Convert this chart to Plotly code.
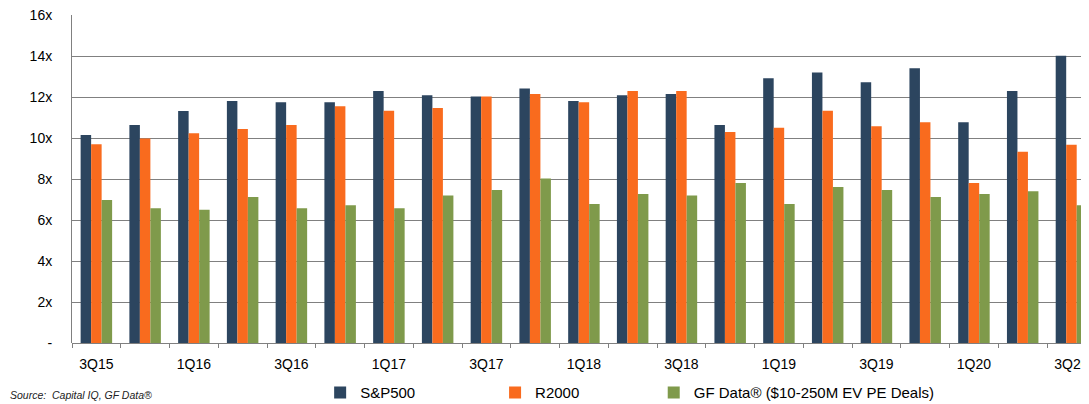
import plotly.graph_objects as go

quarters = ["3Q15", "4Q15", "1Q16", "2Q16", "3Q16", "4Q16", "1Q17", "2Q17", "3Q17", "4Q17",
            "1Q18", "2Q18", "3Q18", "4Q18", "1Q19", "2Q19", "3Q19", "4Q19", "1Q20", "2Q20", "3Q20"]
sp500 = [10.15, 10.63, 11.32, 11.80, 11.74, 11.74, 12.29, 12.08, 12.02, 12.42,
         11.80, 12.08, 12.15, 10.63, 12.91, 13.20, 12.72, 13.40, 10.77, 12.29, 14.01]
r2000 = [9.69, 9.98, 10.23, 10.44, 10.63, 11.55, 11.33, 11.46, 12.02, 12.15,
         11.74, 12.29, 12.29, 10.29, 10.50, 11.33, 10.57, 10.77, 7.80, 9.33, 9.67]
gfdata = [6.98, 6.57, 6.50, 7.12, 6.57, 6.72, 6.57, 7.20, 7.46, 8.03,
          6.78, 7.27, 7.20, 7.80, 6.78, 7.61, 7.46, 7.12, 7.27, 7.40, 6.72]
series_names = ["S&P500", "R2000", "GF Data® ($10-250M EV PE Deals)"]
colors = ["#2C455F", "#F96B1E", "#7F9A4B"]
ytick_vals = [0, 2, 4, 6, 8, 10, 12, 14, 16]
ytick_text = ["-", "2x", "4x", "6x", "8x", "10x", "12x", "14x", "16x"]

x = list(range(len(quarters)))
legend_ids = ["legend", "legend2", "legend3"]
fig = go.Figure()
for name, vals, col, lg in zip(series_names, [sp500, r2000, gfdata], colors, legend_ids):
    fig.add_trace(go.Bar(x=x, y=vals, name=name, marker_color=col,
                         marker_line_width=0, legend=lg))

font_family = "Liberation Sans, Arial, sans-serif"
leg_common = dict(orientation="h", xanchor="left", y=-0.152, yanchor="middle",
                  font=dict(size=15, color="#000000", family=font_family),
                  bgcolor="rgba(0,0,0,0)", borderwidth=0)
fig.update_layout(
    template="none",
    width=1081, height=396,
    margin=dict(l=64, r=0, t=7, b=61, autoexpand=False),
    paper_bgcolor="white", plot_bgcolor="white",
    barmode="group", bargap=0.354, bargroupgap=0,
    font=dict(family=font_family, color="#000000", size=14),
    xaxis=dict(
        range=[-0.5, 20.36],
        tickvals=x[::2], ticktext=quarters[::2],
        ticks="outside", ticklen=8, tickcolor="rgba(255,255,255,0)",
        showgrid=False, zeroline=False, showline=False,
        ticklabeloverflow="allow",
        tickfont=dict(size=14, color="#000000"),
        minor=dict(tick0=-0.5, dtick=1, ticks="outside", ticklen=4,
                   tickcolor="#808080", showgrid=False),
    ),
    yaxis=dict(
        range=[0, 16], tickvals=ytick_vals, ticktext=ytick_text,
        showgrid=True, gridcolor="#808080", gridwidth=1,
        zeroline=True, zerolinecolor="#808080", zerolinewidth=1,
        showline=True, linecolor="#808080", linewidth=1,
        ticks="outside", ticklen=16, tickcolor="rgba(255,255,255,0)",
        ticklabeloverflow="allow",
        tickfont=dict(size=14, color="#000000"),
    ),
    showlegend=True,
    legend=dict(x=0.244, **leg_common),
    legend2=dict(x=0.416, **leg_common),
    legend3=dict(x=0.572, **leg_common),
    annotations=[dict(text="<i>Source:  Capital IQ, GF Data®</i>", xref="paper", yref="paper",
                      x=-64/1017, y=-0.1585, xanchor="left", yanchor="middle",
                      showarrow=False, font=dict(size=10.5, color="#222222"))],
)
fig.write_html("out.html")
